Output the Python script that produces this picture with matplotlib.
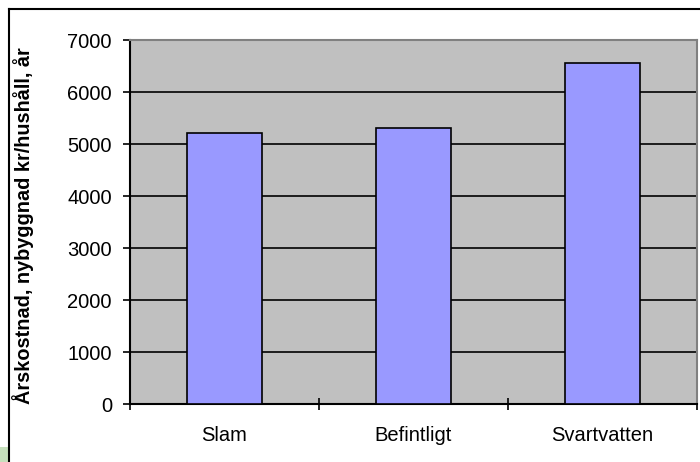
import numpy as np
import matplotlib.pyplot as plt
from matplotlib.lines import Line2D
from matplotlib.patches import Rectangle

plt.rcParams['font.family'] = ['Liberation Sans', 'DejaVu Sans']

categories = ['Slam', 'Befintligt', 'Svartvatten']
values = [5220, 5300, 6560]
yticks = [0, 1000, 2000, 3000, 4000, 5000, 6000, 7000]
ylabel = 'Årskostnad, nybyggnad kr/hushåll, år'

W, H = 700, 462
fig = plt.figure(figsize=(W / 100, H / 100), dpi=100)
fig.patch.set_facecolor('white')

# outer chart frame (left and top edges visible)
fig.add_artist(Line2D([9 / W, 9 / W], [0, 1 - 9 / H], color='black', lw=1.5, transform=fig.transFigure))
fig.add_artist(Line2D([9 / W, 1], [1 - 9 / H, 1 - 9 / H], color='black', lw=1.5, transform=fig.transFigure))
fig.add_artist(Rectangle((0, 0), 8 / W, 15 / H, facecolor='#c6e0bc', edgecolor='none', transform=fig.transFigure))

ax = fig.add_axes([130 / W, (H - 404) / H, (697 - 130) / W, (404 - 40) / H])
ax.set_facecolor('#c0c0c0')

x = np.arange(len(categories))
ax.bar(x, values, width=0.4, color='#9999ff', edgecolor='black', linewidth=1.2, zorder=3)

ax.set_xlim(-0.5, len(categories) - 0.5)
ax.set_ylim(0, 7000)
ax.set_yticks(yticks)
ax.set_yticklabels([str(v) for v in yticks], fontsize=14.5)
ax.yaxis.grid(True, color='black', linewidth=1.2, zorder=1)
ax.set_axisbelow(True)

ax.set_xticks(x)
ax.set_xticklabels(categories, fontsize=14.5)
ax.tick_params(axis='x', length=0, pad=16)
ax.set_xticks(np.arange(len(categories) + 1) - 0.5, minor=True)
ax.tick_params(axis='x', which='minor', length=8, direction='inout', width=1.2)
ax.tick_params(axis='y', length=5, width=1.2, pad=8)

for side in ['top', 'right']:
    ax.spines[side].set_color('#808080')
    ax.spines[side].set_linewidth(1.5)
for side in ['left', 'bottom']:
    ax.spines[side].set_color('black')
    ax.spines[side].set_linewidth(1.5)

fig.text(23 / W, 1 - 226 / H, ylabel, rotation=90, ha='center', va='center',
         fontsize=14.3, fontweight='bold')

fig.savefig('out.png', dpi=100)
